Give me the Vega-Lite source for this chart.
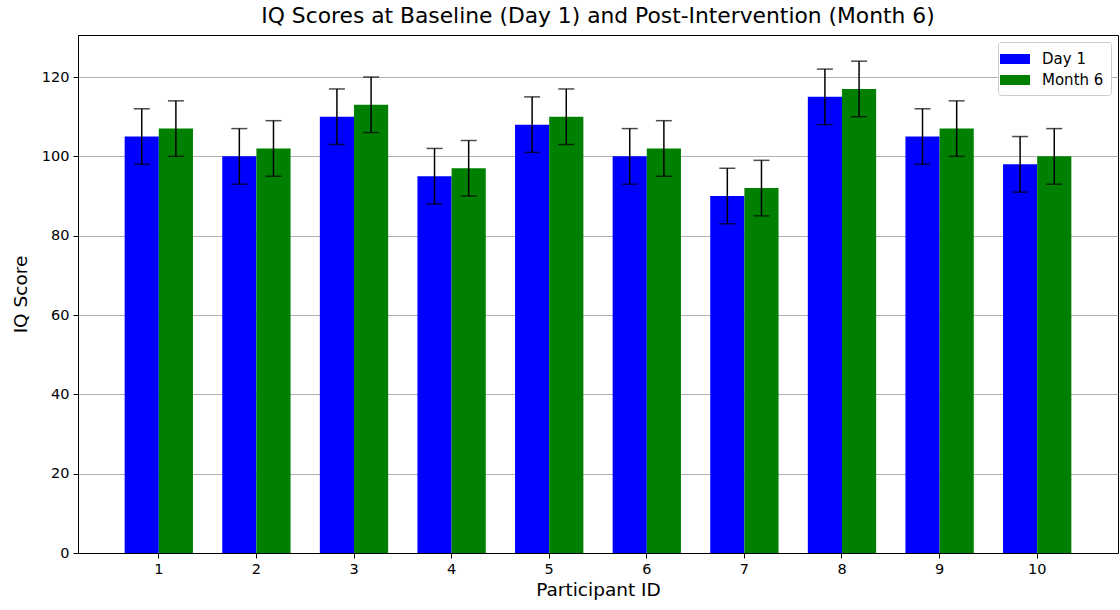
{
  "$schema": "https://vega.github.io/schema/vega-lite/v6.json",
  "autosize": {"type": "none"},
  "padding": {"left": 78, "top": 35, "right": 2, "bottom": 57},
  "width": 1040,
  "height": 518,
  "config": {
    "font": "DejaVu Sans",
    "view": {"stroke": "black", "strokeWidth": 1},
    "axis": {"labelFont": "DejaVu Sans", "titleFont": "DejaVu Sans", "labelFontSize": 14.5, "titleFontSize": 18.5, "titleFontWeight": "normal", "labelColor": "black", "titleColor": "black", "tickColor": "black", "domainColor": "black", "tickSize": 5, "labelPadding": 4}
  },
  "title": {"text": "IQ Scores at Baseline (Day 1) and Post-Intervention (Month 6)", "fontSize": 21.8, "fontWeight": "normal", "font": "DejaVu Sans", "offset": 7, "color": "black"},
  "data": {"values": [
    {"id": "1", "time": "Day 1", "iq": 105, "lo": 98, "hi": 112},
    {"id": "2", "time": "Day 1", "iq": 100, "lo": 93, "hi": 107},
    {"id": "3", "time": "Day 1", "iq": 110, "lo": 103, "hi": 117},
    {"id": "4", "time": "Day 1", "iq": 95, "lo": 88, "hi": 102},
    {"id": "5", "time": "Day 1", "iq": 108, "lo": 101, "hi": 115},
    {"id": "6", "time": "Day 1", "iq": 100, "lo": 93, "hi": 107},
    {"id": "7", "time": "Day 1", "iq": 90, "lo": 83, "hi": 97},
    {"id": "8", "time": "Day 1", "iq": 115, "lo": 108, "hi": 122},
    {"id": "9", "time": "Day 1", "iq": 105, "lo": 98, "hi": 112},
    {"id": "10", "time": "Day 1", "iq": 98, "lo": 91, "hi": 105},
    {"id": "1", "time": "Month 6", "iq": 107, "lo": 100, "hi": 114},
    {"id": "2", "time": "Month 6", "iq": 102, "lo": 95, "hi": 109},
    {"id": "3", "time": "Month 6", "iq": 113, "lo": 106, "hi": 120},
    {"id": "4", "time": "Month 6", "iq": 97, "lo": 90, "hi": 104},
    {"id": "5", "time": "Month 6", "iq": 110, "lo": 103, "hi": 117},
    {"id": "6", "time": "Month 6", "iq": 102, "lo": 95, "hi": 109},
    {"id": "7", "time": "Month 6", "iq": 92, "lo": 85, "hi": 99},
    {"id": "8", "time": "Month 6", "iq": 117, "lo": 110, "hi": 124},
    {"id": "9", "time": "Month 6", "iq": 107, "lo": 100, "hi": 114},
    {"id": "10", "time": "Month 6", "iq": 100, "lo": 93, "hi": 107}
  ]},
  "encoding": {
    "x": {"field": "id", "type": "ordinal", "sort": null, "title": "Participant ID",
          "scale": {"paddingInner": 0.3, "paddingOuter": 0.478},
          "axis": {"labelAngle": 0, "titlePadding": 5}},
    "xOffset": {"field": "time", "type": "nominal", "scale": {"paddingInner": 0, "paddingOuter": 0}}
  },
  "layer": [
    {
      "mark": {"type": "bar", "strokeWidth": 0},
      "encoding": {
        "y": {"field": "iq", "type": "quantitative", "title": "IQ Score",
              "scale": {"domain": [0, 130.6], "nice": false, "zero": true},
              "axis": {"values": [0, 20, 40, 60, 80, 100, 120], "grid": true, "gridColor": "#b0b0b0", "gridWidth": 1, "titlePadding": 11}},
        "color": {"field": "time", "type": "nominal", "title": null,
                  "scale": {"domain": ["Day 1", "Month 6"], "range": ["#0000ff", "#008000"]},
                  "legend": {"orient": "top-right", "offset": 7, "symbolType": "M-1.5,-0.5H1.5V0.5H-1.5Z", "symbolSize": 400, "symbolStrokeWidth": 0, "symbolOpacity": 1, "labelFontSize": 15, "labelFont": "DejaVu Sans", "labelColor": "black", "rowPadding": 3, "padding": 7, "strokeColor": "#cccccc", "fillColor": "white", "cornerRadius": 3, "labelOffset": 17}}
      }
    },
    {
      "mark": {"type": "rule", "color": "black", "strokeWidth": 1.5},
      "encoding": {
        "y": {"field": "lo", "type": "quantitative"},
        "y2": {"field": "hi"}
      }
    },
    {
      "mark": {"type": "tick", "color": "black", "thickness": 1.5, "size": 16, "orient": "horizontal"},
      "encoding": {"y": {"field": "lo", "type": "quantitative"}}
    },
    {
      "mark": {"type": "tick", "color": "black", "thickness": 1.5, "size": 16, "orient": "horizontal"},
      "encoding": {"y": {"field": "hi", "type": "quantitative"}}
    }
  ]
}
